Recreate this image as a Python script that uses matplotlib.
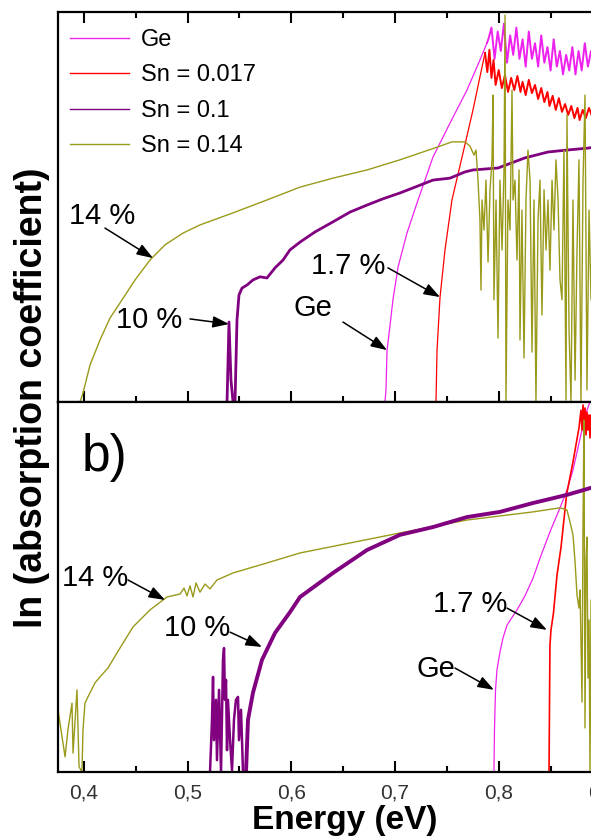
import matplotlib
matplotlib.use('Agg')
import matplotlib.pyplot as plt
from matplotlib.lines import Line2D
from matplotlib.ticker import MultipleLocator, FuncFormatter

plt.rcParams['font.family'] = ['Liberation Sans', 'DejaVu Sans']

# colours of the four samples
c_ge = '#ee22ee'
c_red = '#ff0000'
c_pur = '#800080'
c_oli = '#9a9a1a'

# ---------------- panel a) (energy in eV, ln(alpha) in arbitrary units) ----------------
ge_a_e = [0.6903, 0.6913, 0.6923, 0.6952, 0.6980, 0.7029, 0.7115, 0.7222, 0.7366, 0.7530, 0.7694, 0.7819, 0.7887]
ge_a_y = [0.0, 0.031, 0.133, 0.197, 0.262, 0.346, 0.433, 0.518, 0.628, 0.715, 0.800, 0.877, 0.921]
ge_a_noise_e = [0.790, 0.793, 0.796, 0.799, 0.802, 0.805, 0.808, 0.811, 0.814, 0.817, 0.820, 0.823,
                0.826, 0.829, 0.832, 0.835, 0.838, 0.841, 0.844, 0.847, 0.850, 0.853, 0.856, 0.859,
                0.862, 0.865, 0.868, 0.871, 0.874, 0.877, 0.880, 0.883, 0.886, 0.889, 0.892]
ge_a_noise_y = [0.93, 0.96, 0.88, 0.95, 0.90, 0.97, 0.87, 0.94, 0.89, 0.96, 0.88, 0.93, 0.86, 0.95,
                0.88, 0.92, 0.86, 0.94, 0.87, 0.91, 0.85, 0.93, 0.86, 0.90, 0.84, 0.89, 0.85, 0.91,
                0.84, 0.90, 0.85, 0.92, 0.86, 0.90, 0.87]

red_a_e = [0.7395, 0.7405, 0.7434, 0.7482, 0.7549, 0.7655, 0.7752, 0.7839, 0.7868]
red_a_y = [0.0, 0.133, 0.269, 0.390, 0.518, 0.638, 0.749, 0.859, 0.895]
red_a_noise_e = [0.789, 0.791, 0.793, 0.795, 0.797, 0.800, 0.803, 0.806, 0.809, 0.812, 0.815, 0.818,
                 0.821, 0.823, 0.826, 0.829, 0.832, 0.835, 0.838, 0.841, 0.844, 0.847, 0.849, 0.852,
                 0.855, 0.858, 0.861, 0.864, 0.867, 0.870, 0.873, 0.876, 0.878, 0.881, 0.884, 0.887,
                 0.890, 0.893]
red_a_noise_y = [0.846, 0.903, 0.831, 0.877, 0.813, 0.851, 0.805, 0.838, 0.795, 0.831, 0.800, 0.836,
                 0.795, 0.821, 0.787, 0.826, 0.792, 0.813, 0.777, 0.805, 0.769, 0.795, 0.759, 0.785,
                 0.749, 0.779, 0.744, 0.764, 0.736, 0.759, 0.728, 0.754, 0.723, 0.749, 0.728, 0.754,
                 0.733, 0.749]

pur_a_e = [0.5380, 0.5399, 0.5418, 0.5438, 0.5457, 0.5476, 0.5495, 0.5524, 0.5573, 0.5630, 0.5698,
           0.5765, 0.5843, 0.5920, 0.5987, 0.6084, 0.6228, 0.6402, 0.6566, 0.6730, 0.6884, 0.7048,
           0.7366, 0.7530, 0.7675, 0.7752, 0.7993, 0.8253, 0.8475, 0.8658, 0.8861, 0.9170]
pur_a_y = [0.0, 0.205, 0.056, 0.0, 0.0, 0.210, 0.274, 0.292, 0.300, 0.313, 0.321, 0.318, 0.344, 0.364,
           0.390, 0.410, 0.436, 0.462, 0.487, 0.505, 0.521, 0.536, 0.569, 0.574, 0.590, 0.595, 0.600,
           0.626, 0.641, 0.646, 0.651, 0.664]

oli_a_e = [0.3962, 0.3991, 0.4059, 0.4155, 0.4251, 0.4348, 0.4493, 0.4637, 0.4782, 0.4955, 0.5119,
           0.5438, 0.5765, 0.6084, 0.6402, 0.6730, 0.7048, 0.7434, 0.7549, 0.7655]
oli_a_y = [0.0, 0.023, 0.095, 0.159, 0.215, 0.254, 0.313, 0.364, 0.403, 0.433, 0.454, 0.485, 0.518,
           0.551, 0.574, 0.595, 0.621, 0.656, 0.667, 0.667]
oli_a_noise_e = [0.7675, 0.7723, 0.7762, 0.7781, 0.7800, 0.7819, 0.7829, 0.7839, 0.7858, 0.7877,
                 0.7897, 0.7916, 0.7935, 0.7945, 0.7954, 0.7974, 0.7993, 0.8012, 0.8032, 0.8051,
                 0.8061, 0.8070, 0.8089, 0.8109, 0.8128, 0.8138, 0.8157, 0.8176, 0.8196, 0.8205,
                 0.8224, 0.8244, 0.8263, 0.8282, 0.8302, 0.8321, 0.8340, 0.8359, 0.8379, 0.8398,
                 0.8417, 0.8437, 0.8456, 0.8475, 0.8494, 0.8514, 0.8533, 0.8552, 0.8572, 0.8591,
                 0.8610, 0.8629, 0.8649, 0.8658, 0.8678, 0.8697, 0.8716, 0.8736, 0.8755, 0.8774,
                 0.8793, 0.8813, 0.8832, 0.8851, 0.8871, 0.8890, 0.8909]
oli_a_noise_y = [0.667, 0.656, 0.633, 0.646, 0.569, 0.467, 0.287, 0.518, 0.441, 0.569,
                 0.359, 0.544, 0.621, 0.787, 0.262, 0.518, 0.164, 0.569, 0.390, 0.595,
                 0.992, 0.0, 0.518, 0.441, 0.800, 0.518, 0.569, 0.364, 0.595, 0.159,
                 0.492, 0.113, 0.518, 0.646, 0.569, 0.128, 0.518, 0.0, 0.467, 0.569,
                 0.223, 0.544, 0.390, 0.518, 0.338, 0.569, 0.441, 0.621, 0.518, 0.313,
                 0.262, 0.646, 0.005, 0.736, 0.185, 0.0, 0.518, 0.056, 0.390, 0.621,
                 0.0, 0.569, 0.787, 0.031, 0.492, 0.262, 0.518]

# ---------------- panel b) ----------------
ge_b_e = [0.7954, 0.7959, 0.7969, 0.7983, 0.8012, 0.8041, 0.8080, 0.8176, 0.8253, 0.8331, 0.8398,
          0.8494, 0.8591, 0.8658, 0.8716, 0.8764, 0.8813, 0.8851, 0.8880]
ge_b_y = [0.0, 0.114, 0.222, 0.276, 0.324, 0.362, 0.397, 0.438, 0.476, 0.524, 0.578, 0.649, 0.714,
          0.762, 0.816, 0.876, 0.938, 0.978, 1.0]

red_b_e = [0.8485, 0.8490, 0.8494, 0.8504, 0.8528, 0.8562, 0.8601, 0.8654, 0.8716, 0.8774, 0.8793,
           0.8803, 0.8813, 0.8822, 0.8832, 0.8842, 0.8851, 0.8861, 0.8871, 0.8880, 0.8890, 0.8909]
red_b_y = [0.0, 0.195, 0.343, 0.384, 0.430, 0.532, 0.608, 0.749, 0.838, 0.930, 0.978, 0.924, 0.992,
           0.938, 0.984, 0.911, 0.973, 0.924, 0.965, 0.903, 0.965, 0.930]

pur_b_noise_e = [0.5216, 0.5235, 0.5245, 0.5254, 0.5274, 0.5283, 0.5303, 0.5322, 0.5341, 0.5351,
                 0.5360, 0.5370, 0.5380, 0.5389, 0.5409, 0.5428, 0.5447, 0.5466, 0.5486, 0.5495,
                 0.5515, 0.5534]
pur_b_noise_y = [0.0, 0.141, 0.257, 0.086, 0.195, 0.032, 0.222, 0.0, 0.303, 0.335, 0.195, 0.249,
                 0.059, 0.195, 0.086, 0.005, 0.141, 0.195, 0.203, 0.086, 0.168, 0.0]
pur_b_e = [0.5563, 0.5582, 0.5630, 0.5717, 0.5843, 0.5987, 0.6084, 0.6402, 0.6730, 0.7048, 0.7366,
           0.7694, 0.8012, 0.8331, 0.8658, 0.8890, 0.9170]
pur_b_y = [0.0, 0.141, 0.214, 0.303, 0.376, 0.432, 0.473, 0.538, 0.600, 0.641, 0.662, 0.689, 0.703,
           0.727, 0.749, 0.768, 0.789]

oli_b_e = [0.3750, 0.3789, 0.3818, 0.3846, 0.3885, 0.3895, 0.3933, 0.3953, 0.3981, 0.3991, 0.4010,
           0.4039, 0.4107, 0.4155, 0.4232, 0.4319, 0.4396, 0.4473, 0.4637, 0.4801, 0.4927, 0.4965,
           0.4994, 0.5023, 0.5052, 0.5081, 0.5119, 0.5168, 0.5216, 0.5283, 0.5438, 0.5765, 0.6084,
           0.7048, 0.7694, 0.8331, 0.8591]
oli_b_y = [0.168, 0.095, 0.041, 0.114, 0.186, 0.051, 0.222, 0.014, 0.0, 0.114, 0.186, 0.203, 0.241,
           0.257, 0.281, 0.322, 0.357, 0.392, 0.438, 0.473, 0.481, 0.497, 0.476, 0.503, 0.473, 0.511,
           0.486, 0.508, 0.495, 0.519, 0.538, 0.565, 0.592, 0.646, 0.681, 0.703, 0.714]
oli_b_noise_e = [0.8658, 0.8687, 0.8716, 0.8736, 0.8755, 0.8774, 0.8784, 0.8793, 0.8803, 0.8813,
                 0.8822, 0.8832, 0.8842, 0.8851, 0.8861, 0.8871, 0.8880, 0.8890, 0.8900, 0.8919]
oli_b_noise_y = [0.708, 0.676, 0.641, 0.568, 0.478, 0.443, 0.492, 0.357, 0.189, 0.676, 0.951, 0.119,
                 0.573, 0.635, 0.254, 0.411, 0.0, 0.465, 0.195, 0.573]

legend_labels = ['Ge', 'Sn = 0.017', 'Sn = 0.1', 'Sn = 0.14']

# labels with arrows: (text, text pos, arrow start, arrow tip)
notes_a = [('14 %', (0.4174, 0.477), (0.4203, 0.446), (0.4666, 0.369)),
           ('10 %', (0.4628, 0.210), (0.5023, 0.213), (0.5399, 0.200)),
           ('1.7 %', (0.6547, 0.349), (0.6932, 0.344), (0.7434, 0.269)),
           ('Ge', (0.6209, 0.241), (0.6498, 0.205), (0.6923, 0.133))]
notes_b = [('14 %', (0.4107, 0.524), (0.4425, 0.519), (0.4782, 0.465)),
           ('10 %', (0.5090, 0.389), (0.5409, 0.378), (0.5717, 0.338)),
           ('1.7 %', (0.7723, 0.454), (0.8080, 0.443), (0.8465, 0.384)),
           ('Ge', (0.7395, 0.278), (0.7578, 0.281), (0.7954, 0.222))]

W, H = 591, 840
fig = plt.figure(figsize=(W / 100, H / 100), dpi=100)
xmin, xmax = 0.375, 0.95
px_per_ev = 1037.0
left = 58 / W
width = (xmax - xmin) * px_per_ev / W   # axes run past the right border (cropped figure)
ax_a = fig.add_axes([left, (H - 402) / H, width, 390 / H])
ax_b = fig.add_axes([left, (H - 772) / H, width, 370 / H])

# panel a
ax_a.plot(ge_a_e, ge_a_y, color=c_ge, lw=0.9)
ax_a.plot([ge_a_e[-1]] + ge_a_noise_e, [ge_a_y[-1]] + ge_a_noise_y, color=c_ge, lw=1.4)
ax_a.plot(red_a_e, red_a_y, color=c_red, lw=0.9)
ax_a.plot([red_a_e[-1]] + red_a_noise_e, [red_a_y[-1]] + red_a_noise_y, color=c_red, lw=1.4)
ax_a.plot(pur_a_e, pur_a_y, color=c_pur, lw=2.0)
ax_a.plot(oli_a_e + oli_a_noise_e, oli_a_y + oli_a_noise_y, color=c_oli, lw=1.0)

# panel b
ax_b.plot(ge_b_e, ge_b_y, color=c_ge, lw=0.9)
ax_b.plot(red_b_e, red_b_y, color=c_red, lw=1.2)
ax_b.plot(oli_b_e + oli_b_noise_e, oli_b_y + oli_b_noise_y, color=c_oli, lw=1.0)
ax_b.plot(pur_b_noise_e, pur_b_noise_y, color=c_pur, lw=1.8)
ax_b.plot(pur_b_e, pur_b_y, color=c_pur, lw=2.8)

fmt = FuncFormatter(lambda v, pos: ('%.1f' % v).replace('.', ','))
for ax in (ax_a, ax_b):
    ax.set_xlim(xmin, xmax)
    ax.set_ylim(0, 1)
    ax.xaxis.set_major_locator(MultipleLocator(0.1))
    ax.xaxis.set_minor_locator(MultipleLocator(0.05))
    ax.xaxis.set_major_formatter(fmt)
    ax.set_yticks([])
    for s in ax.spines.values():
        s.set_linewidth(1.6)
    ax.tick_params(axis='x', which='major', direction='in', length=8, width=1.5,
                   labelsize=15, labelcolor='#333333', pad=8)
    ax.tick_params(axis='x', which='minor', direction='in', length=4.5, width=1.5)

ax_a.tick_params(axis='x', which='both', top=True, labelbottom=False)
ax_b.tick_params(axis='x', which='both', top=False)

for ax, notes in ((ax_a, notes_a), (ax_b, notes_b)):
    for txt, tpos, start, tip in notes:
        ax.text(tpos[0], tpos[1], txt, fontsize=21, ha='center', va='center')
        ax.annotate('', xy=tip, xytext=start,
                    arrowprops=dict(arrowstyle='-|>,head_length=0.7,head_width=0.25',
                                    color='black', lw=1.1, mutation_scale=14,
                                    shrinkA=0, shrinkB=0))

ax_b.text(0.4194, 0.851, 'b)', fontsize=37, ha='center', va='center')

# thin legend lines, as in the original
handles = [Line2D([], [], color=c, lw=1.0) for c in (c_ge, c_red, c_pur, c_oli)]
ax_a.legend(handles, legend_labels, loc='upper left', bbox_to_anchor=(-0.013, 1.008), frameon=False,
            fontsize=17, handlelength=2.5, handletextpad=0.5, labelspacing=0.57, borderaxespad=0.45)

fig.text(32 / W, (H - 398) / H, 'ln (absorption coefficient)', rotation=90, fontsize=27,
         fontweight='bold', ha='center', va='center')
fig.text(345 / W, (H - 820) / H, 'Energy (eV)', fontsize=24, fontweight='bold',
         ha='center', va='center')

fig.savefig('out.png', dpi=100)
